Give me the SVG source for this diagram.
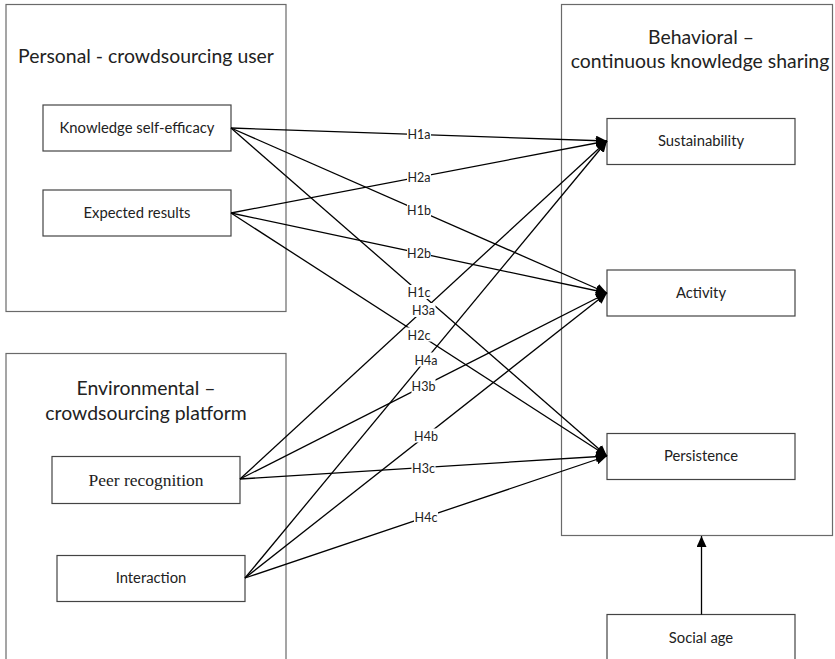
<svg xmlns="http://www.w3.org/2000/svg" width="835" height="659" viewBox="0 0 835 659">
<style>
.grp{fill:#fff;stroke:#6a6a6a;stroke-width:1.2}
.box{fill:#fff;stroke:#444;stroke-width:1.2}
.t{font-family:Lato,"Liberation Sans",sans-serif;fill:#222;text-anchor:middle}
.title{font-size:19.4px}
.lbl{font-size:14.8px}
.serif{font-family:"Liberation Serif",serif;font-size:17.5px}
.hl{font-family:Lato,"Liberation Sans",sans-serif;font-size:12.5px;fill:#222;text-anchor:middle}
.hb{fill:#fff;stroke:none}
.c{stroke:#000;stroke-width:1.3;fill:none;marker-end:url(#ah)}
</style>
<defs>
<marker id="ah" markerUnits="userSpaceOnUse" markerWidth="12" markerHeight="10" refX="11" refY="5" orient="auto">
<path d="M0,0 L11,5 L0,10 z" fill="#000"/>
</marker>
</defs>
<rect width="835" height="659" fill="#fff"/>
<g id="personal">
<rect class="grp" x="6" y="4.5" width="280" height="307"/>
<text class="t title" x="146" y="63">Personal - crowdsourcing user</text>
</g>
<g id="environmental">
<rect class="grp" x="6" y="353.5" width="280" height="320"/>
<text class="t title" x="146" y="395">Environmental –</text>
<text class="t title" x="146" y="420">crowdsourcing platform</text>
</g>
<g id="behavioral">
<rect class="grp" x="561.5" y="4.5" width="271" height="531"/>
<text class="t title" x="701" y="44">Behavioral –</text>
<text class="t title" x="700" y="68">continuous knowledge sharing</text>
</g>
<g id="knowledge-self-efficacy">
<rect class="box" x="43" y="105" width="188" height="46"/>
<text class="t lbl" x="137" y="133">Knowledge self-efficacy</text>
</g>
<g id="expected-results">
<rect class="box" x="43" y="190" width="188" height="46"/>
<text class="t lbl" x="137" y="218">Expected results</text>
</g>
<g id="peer-recognition">
<rect class="box" x="52" y="456.5" width="188" height="47"/>
<text class="t serif" x="146" y="486">Peer recognition</text>
</g>
<g id="interaction">
<rect class="box" x="57" y="555.5" width="188" height="46"/>
<text class="t lbl" x="151" y="583">Interaction</text>
</g>
<g id="sustainability">
<rect class="box" x="607" y="118.5" width="188" height="46"/>
<text class="t lbl" x="701" y="146">Sustainability</text>
</g>
<g id="activity">
<rect class="box" x="607" y="270" width="188" height="46"/>
<text class="t lbl" x="701" y="298">Activity</text>
</g>
<g id="persistence">
<rect class="box" x="607" y="433.5" width="188" height="46"/>
<text class="t lbl" x="701" y="461">Persistence</text>
</g>
<g id="social-age">
<rect class="box" x="607" y="614.5" width="188" height="60"/>
<text class="t lbl" x="701" y="643">Social age</text>
</g>
<g id="connectors">
<line class="c" x1="231" y1="128" x2="607" y2="141"/>
<line class="c" x1="231" y1="128" x2="607" y2="293"/>
<line class="c" x1="231" y1="128" x2="607" y2="456"/>
<line class="c" x1="231" y1="213" x2="607" y2="141"/>
<line class="c" x1="231" y1="213" x2="607" y2="293"/>
<line class="c" x1="231" y1="213" x2="607" y2="456"/>
<line class="c" x1="240" y1="479" x2="607" y2="141"/>
<line class="c" x1="240" y1="479" x2="607" y2="293"/>
<line class="c" x1="240" y1="479" x2="607" y2="456"/>
<line class="c" x1="245" y1="578" x2="607" y2="141"/>
<line class="c" x1="245" y1="578" x2="607" y2="293"/>
<line class="c" x1="245" y1="578" x2="607" y2="456"/>
<line class="c" x1="701.5" y1="614.5" x2="701.5" y2="536"/>
</g>
<g id="labels">
<rect class="hb" x="407" y="127" width="24" height="14"/><text class="hl" x="419" y="139">H1a</text>
<rect class="hb" x="407" y="170" width="24" height="14"/><text class="hl" x="419" y="182">H2a</text>
<rect class="hb" x="407" y="203" width="24" height="14"/><text class="hl" x="419" y="215">H1b</text>
<rect class="hb" x="407" y="246" width="24" height="14"/><text class="hl" x="419" y="258">H2b</text>
<rect class="hb" x="407" y="285" width="24" height="14"/><text class="hl" x="419" y="297">H1c</text>
<rect class="hb" x="411.5" y="303" width="24" height="14"/><text class="hl" x="423.5" y="315">H3a</text>
<rect class="hb" x="407" y="327.5" width="24" height="14"/><text class="hl" x="419" y="339.5">H2c</text>
<rect class="hb" x="414" y="352.5" width="24" height="14"/><text class="hl" x="426" y="364.5">H4a</text>
<rect class="hb" x="411.5" y="379" width="24" height="14"/><text class="hl" x="423.5" y="391">H3b</text>
<rect class="hb" x="414" y="428.5" width="24" height="14"/><text class="hl" x="426" y="440.5">H4b</text>
<rect class="hb" x="411.5" y="460.5" width="24" height="14"/><text class="hl" x="423.5" y="472.5">H3c</text>
<rect class="hb" x="414" y="510" width="24" height="14"/><text class="hl" x="426" y="522">H4c</text>
</g>
</svg>
